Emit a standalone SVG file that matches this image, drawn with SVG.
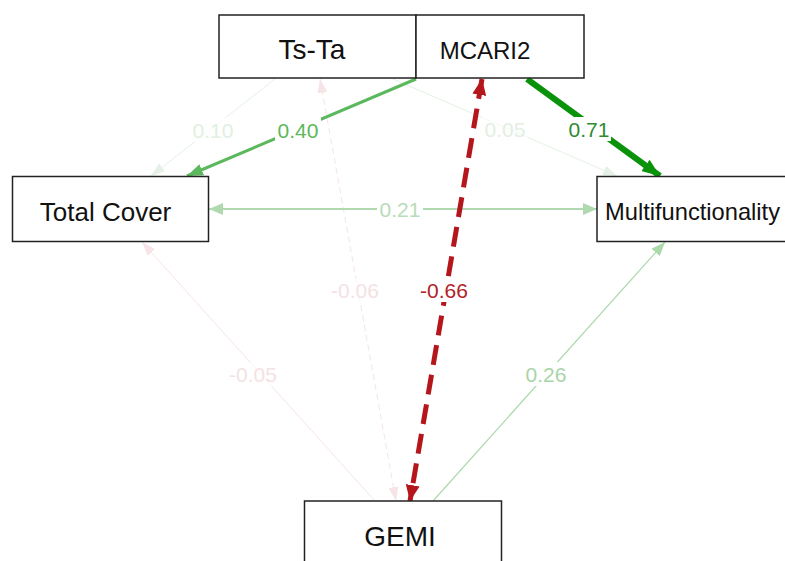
<svg xmlns="http://www.w3.org/2000/svg" width="785" height="561" viewBox="0 0 785 561">
<style>
.box{fill:#fff;stroke:#222;stroke-width:1.5}
.nt{font-family:"Liberation Sans",Arial,sans-serif;fill:#111;text-anchor:middle}
.ns{font-family:"Liberation Sans",Arial,sans-serif;fill:#111;text-anchor:start}
.lb{font-family:"Liberation Sans",Arial,sans-serif;font-size:21px;text-anchor:middle}
.bg{fill:#fff}
</style>
<defs>
<marker id="mFaintG" markerUnits="userSpaceOnUse" markerWidth="14" markerHeight="10" refX="14" refY="5" orient="auto-start-reverse"><path d="M0,0 L14,5 L0,10 z" fill="#e4f1e4"/></marker>
<marker id="mG40" markerUnits="userSpaceOnUse" markerWidth="16" markerHeight="12" refX="16" refY="6" orient="auto-start-reverse"><path d="M0,0 L16,6 L0,12 z" fill="#5cb85c"/></marker>
<marker id="mG71" markerUnits="userSpaceOnUse" markerWidth="18" markerHeight="14" refX="18" refY="7" orient="auto-start-reverse"><path d="M0,0 L18,7 L0,14 z" fill="#0a930a"/></marker>
<marker id="mG21" markerUnits="userSpaceOnUse" markerWidth="14" markerHeight="12" refX="14" refY="6" orient="auto-start-reverse"><path d="M0,0 L14,6 L0,12 z" fill="#b0d9b0"/></marker>
<marker id="mG26" markerUnits="userSpaceOnUse" markerWidth="14" markerHeight="11" refX="14" refY="5.5" orient="auto-start-reverse"><path d="M0,0 L14,5.5 L0,11 z" fill="#acd8ac"/></marker>
<marker id="mFaintR" markerUnits="userSpaceOnUse" markerWidth="14" markerHeight="10" refX="14" refY="5" orient="auto-start-reverse"><path d="M0,0 L14,5 L0,10 z" fill="#f6e4e6"/></marker>
<marker id="mR66" markerUnits="userSpaceOnUse" markerWidth="16" markerHeight="14" refX="16" refY="7" orient="auto-start-reverse"><path d="M0,0 L16,7 L0,14 z" fill="#b5161c"/></marker>
</defs>
<g id="connectors" fill="none">
<line x1="275" y1="79" x2="151" y2="176" stroke="#e4f1e4" stroke-width="1" marker-end="url(#mFaintG)"/>
<line x1="393" y1="79" x2="617" y2="176" stroke="#e4f1e4" stroke-width="1" marker-end="url(#mFaintG)"/>
<line x1="375" y1="501" x2="142" y2="242" stroke="#f6e4e6" stroke-width="1" marker-end="url(#mFaintR)"/>
<line x1="320" y1="79" x2="396" y2="501" stroke="#f6e4e6" stroke-width="1" stroke-dasharray="6,4" marker-start="url(#mFaintR)" marker-end="url(#mFaintR)"/>
<line x1="209" y1="209" x2="597" y2="209" stroke="#b0d9b0" stroke-width="2" marker-start="url(#mG21)" marker-end="url(#mG21)"/>
<line x1="433" y1="501" x2="665" y2="242" stroke="#acd8ac" stroke-width="1.2" marker-end="url(#mG26)"/>
<line x1="416" y1="79" x2="187" y2="176" stroke="#5cb85c" stroke-width="3" marker-end="url(#mG40)"/>
<line x1="527" y1="79" x2="660" y2="176" stroke="#0a930a" stroke-width="6" marker-end="url(#mG71)"/>
<line x1="482" y1="79" x2="410" y2="501" stroke="#b5161c" stroke-width="5" stroke-dasharray="20,10" marker-start="url(#mR66)" marker-end="url(#mR66)"/>
<g id="labels">
<rect class="bg" x="190" y="118" width="46" height="24" opacity="0.6"/>
<text class="lb" x="213" y="138" fill="#e2efe2">0.10</text>
<rect class="bg" x="275" y="118" width="46" height="24"/>
<text class="lb" x="298" y="138" fill="#5cb85c">0.40</text>
<rect class="bg" x="482" y="117" width="46" height="24" opacity="0.6"/>
<text class="lb" x="505" y="137" fill="#e2efe2">0.05</text>
<rect class="bg" x="567" y="117" width="44" height="24"/>
<text class="lb" x="589" y="137" fill="#2e8b2e">0.71</text>
<rect class="bg" x="377" y="197" width="46" height="24"/>
<text class="lb" x="400" y="217" fill="#b8dcb8">0.21</text>
<rect class="bg" x="327" y="278" width="56" height="24" opacity="0.6"/>
<text class="lb" x="355" y="298" fill="#f3e2e4">-0.06</text>
<rect class="bg" x="416" y="278" width="56" height="24"/>
<text class="lb" x="444" y="298" fill="#b22229">-0.66</text>
<rect class="bg" x="225" y="362" width="56" height="24" opacity="0.6"/>
<text class="lb" x="253" y="382" fill="#f3e2e4">-0.05</text>
<rect class="bg" x="524" y="362" width="44" height="24"/>
<text class="lb" x="546" y="382" fill="#a8d5a8">0.26</text>
</g>
</g>
<g id="node-tsta"><rect class="box" x="219" y="15" width="197" height="63"/><text class="nt" x="312" y="59" font-size="28">Ts-Ta</text></g>
<g id="node-mcari2"><rect class="box" x="416" y="15" width="168" height="63"/><text class="nt" x="485" y="59" font-size="24">MCARI2</text></g>
<g id="node-totalcover"><rect class="box" x="12.5" y="176.5" width="196" height="65"/><text class="nt" x="105.5" y="221" font-size="26">Total Cover</text></g>
<g id="node-multi"><rect class="box" x="597" y="176.5" width="195" height="65"/><text class="ns" x="605" y="220" font-size="24" textLength="175" lengthAdjust="spacingAndGlyphs">Multifunctionality</text></g>
<g id="node-gemi"><rect class="box" x="304.5" y="501" width="197" height="70"/><text class="nt" x="400" y="546" font-size="28">GEMI</text></g>
</svg>
